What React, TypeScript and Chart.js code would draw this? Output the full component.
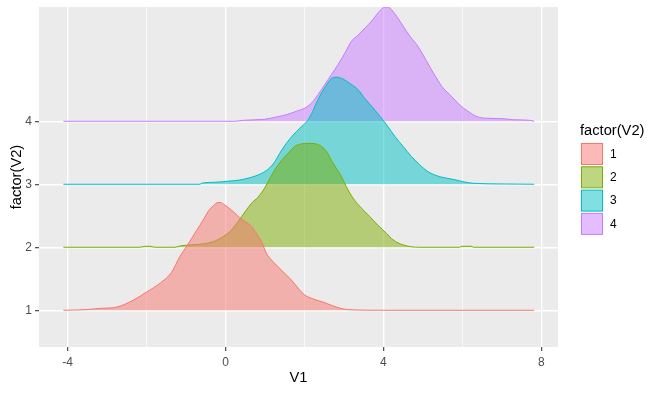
import { useEffect, useRef } from 'react';
import { Chart, registerables } from 'chart.js';

Chart.register(...registerables);

// ---- data ----
const GROUPS = ['1', '2', '3', '4'];
const BASELINES = [1, 2, 3, 4];
const X_TICKS = [-4, -2, 0, 2, 4, 6, 8];
const X_LABELED = [-4, 0, 4, 8];

const X1 = [-4.11, -3.54, -3.18, -2.76, -2.34, -2.0, -1.66, -1.37, -1.16, -0.99, -0.85, -0.73, -0.57, -0.44, -0.31, -0.19, -0.14, -0.02, 0.11, 0.24, 0.36, 0.49, 0.66, 0.78, 0.91, 1.04, 1.16, 1.33, 1.54, 1.67, 1.88, 2.01, 2.22, 2.47, 2.72, 2.98, 3.32, 4.0, 7.82];
const H1 = [0, 0.01, 0.03, 0.05, 0.16, 0.29, 0.43, 0.6, 0.85, 1.01, 1.15, 1.27, 1.43, 1.57, 1.66, 1.71, 1.71, 1.67, 1.61, 1.54, 1.47, 1.41, 1.33, 1.22, 1.09, 0.9, 0.8, 0.69, 0.56, 0.48, 0.32, 0.24, 0.18, 0.13, 0.07, 0.02, 0.005, 0, 0];

const X2 = [-4.11, -2.17, -2.03, -1.92, -1.79, -1.28, -1.16, -0.9, -0.57, -0.31, -0.06, 0.15, 0.32, 0.49, 0.66, 0.83, 0.99, 1.12, 1.25, 1.42, 1.58, 1.75, 1.92, 2.1, 2.3, 2.43, 2.56, 2.68, 2.81, 2.94, 3.06, 3.23, 3.4, 3.65, 3.86, 4.08, 4.24, 4.5, 4.92, 5.93, 5.98, 6.23, 6.29, 7.82];
const H2 = [0, 0, 0.016, 0.016, 0, 0, 0.02, 0.037, 0.052, 0.089, 0.168, 0.275, 0.41, 0.56, 0.7, 0.8, 0.94, 1.09, 1.23, 1.38, 1.49, 1.6, 1.64, 1.65, 1.64, 1.6, 1.52, 1.38, 1.25, 1.12, 0.96, 0.78, 0.65, 0.49, 0.35, 0.22, 0.12, 0.037, 0, 0, 0.016, 0.016, 0, 0];

const X3 = [-4.11, -0.65, -0.61, -0.27, 0.11, 0.36, 0.62, 0.87, 1.08, 1.25, 1.37, 1.54, 1.71, 1.88, 2.05, 2.18, 2.3, 2.43, 2.56, 2.68, 2.81, 2.98, 3.15, 3.36, 3.53, 3.74, 3.95, 4.12, 4.29, 4.5, 4.71, 4.92, 5.13, 5.43, 5.76, 6.02, 6.27, 7.07, 7.82];
const H3 = [0, 0, 0.016, 0.032, 0.052, 0.068, 0.105, 0.16, 0.24, 0.36, 0.49, 0.65, 0.78, 0.89, 0.99, 1.12, 1.29, 1.45, 1.58, 1.68, 1.7, 1.67, 1.6, 1.5, 1.36, 1.21, 1.05, 0.91, 0.76, 0.6, 0.44, 0.31, 0.2, 0.12, 0.079, 0.041, 0.016, 0.005, 0];

const X4 = [-4.11, 0.24, 0.45, 0.99, 1.29, 1.54, 1.8, 2.01, 2.18, 2.34, 2.51, 2.68, 2.85, 3.02, 3.19, 3.36, 3.53, 3.7, 3.86, 3.99, 4.08, 4.16, 4.33, 4.5, 4.67, 4.84, 5.0, 5.17, 5.34, 5.51, 5.72, 5.93, 6.14, 6.35, 6.52, 7.03, 7.28, 7.7, 7.82];
const H4 = [0, 0, 0.016, 0.032, 0.069, 0.105, 0.16, 0.21, 0.29, 0.42, 0.58, 0.74, 0.9, 1.08, 1.27, 1.37, 1.48, 1.59, 1.72, 1.8, 1.815, 1.8, 1.67, 1.51, 1.35, 1.22, 1.06, 0.87, 0.69, 0.53, 0.4, 0.26, 0.16, 0.079, 0.052, 0.041, 0.025, 0.016, 0];

const XS = [X1, X2, X3, X4];
const HS = [H1, H2, H3, H4];
const LINE_COLORS = ['#F8766D', '#7CAE00', '#00BFC4', '#C77CFF'];
const FILL_COLORS = ['rgba(248,118,109,0.5)', 'rgba(124,174,0,0.5)', 'rgba(0,191,196,0.5)', 'rgba(199,124,255,0.5)'];

const FONT = '"Liberation Sans", Arial, sans-serif';

const W = 659;
const H = 394;

const decorPlugin = {
  id: 'decor',
  beforeDraw(chart: any) {
    const { ctx, chartArea } = chart;
    ctx.save();
    ctx.fillStyle = '#EBEBEB';
    ctx.fillRect(chartArea.left, chartArea.top, chartArea.right - chartArea.left, chartArea.bottom - chartArea.top);
    ctx.restore();
  },
  afterDraw(chart: any) {
    const { ctx, chartArea } = chart;
    ctx.save();
    ctx.fillStyle = '#000000';
    ctx.font = `14.7px ${FONT}`;
    ctx.textAlign = 'center';
    ctx.textBaseline = 'middle';
    // x title
    ctx.fillText('V1', (chartArea.left + chartArea.right) / 2, 378);
    // y title
    ctx.save();
    ctx.translate(17, (chartArea.top + chartArea.bottom) / 2);
    ctx.rotate(-Math.PI / 2);
    ctx.fillText('factor(V2)', 0, 0);
    ctx.restore();
    // legend
    ctx.textAlign = 'left';
    ctx.fillText('factor(V2)', 580, 131);
    ctx.font = `12px ${FONT}`;
    for (let i = 0; i < GROUPS.length; i++) {
      const top = 143 + i * 23.3;
      ctx.fillStyle = FILL_COLORS[i];
      ctx.fillRect(581.5, top + 0.5, 21, 21);
      ctx.strokeStyle = LINE_COLORS[i];
      ctx.lineWidth = 1;
      ctx.strokeRect(581.5, top + 0.5, 21, 21);
      ctx.fillStyle = '#000000';
      ctx.fillText(GROUPS[i], 610, top + 11.5);
    }
    ctx.restore();
  },
};

export default function App() {
  const ref = useRef<HTMLCanvasElement>(null);
  useEffect(() => {
    const canvas = ref.current;
    if (!canvas) return;
    const datasets = GROUPS.map((g, i) => ({
      label: g,
      data: XS[i].map((x, j) => ({ x, y: BASELINES[i] + HS[i][j] })),
      borderColor: LINE_COLORS[i],
      backgroundColor: FILL_COLORS[i],
      borderWidth: 1,
      pointRadius: 0,
      cubicInterpolationMode: 'monotone' as const,
      fill: { value: BASELINES[i] },
    }));
    const chart = new Chart(canvas, {
      type: 'line',
      data: { datasets },
      plugins: [decorPlugin],
      options: {
        animation: false,
        responsive: false,
        devicePixelRatio: 1,
        layout: { padding: { left: 0, top: 7, right: 101, bottom: 0 } },
        plugins: { legend: { display: false }, tooltip: { enabled: false } },
        scales: {
          x: {
            type: 'linear',
            min: -4.727,
            max: 8.423,
            afterBuildTicks: (s: any) => {
              s.ticks = X_TICKS.map((v) => ({ value: v }));
            },
            afterFit: (s: any) => {
              s.height = 47;
              s.paddingLeft = 0;
              s.paddingRight = 0;
              s.paddingTop = 0;
              s.paddingBottom = 0;
            },
            border: { display: false },
            grid: {
              color: '#FFFFFF',
              lineWidth: (c: any) => (c.tick && X_LABELED.includes(c.tick.value) ? 1.4 : 0.7),
              drawTicks: true,
              tickLength: 4,
              tickColor: (c: any) => (c.tick && X_LABELED.includes(c.tick.value) ? '#333333' : 'rgba(0,0,0,0)'),
              tickWidth: 1.07,
            },
            ticks: {
              autoSkip: false,
              maxRotation: 0,
              padding: 4,
              color: '#4D4D4D',
              font: { family: FONT, size: 12 },
              callback: (v: any) => (X_LABELED.includes(Number(v)) ? String(v) : ''),
            },
          },
          y: {
            type: 'linear',
            min: 0.417,
            max: 5.814,
            afterBuildTicks: (s: any) => {
              s.ticks = BASELINES.map((v) => ({ value: v }));
            },
            afterFit: (s: any) => {
              s.width = 39;
              s.paddingLeft = 0;
              s.paddingRight = 0;
              s.paddingTop = 0;
              s.paddingBottom = 0;
            },
            border: { display: false },
            grid: {
              color: '#FFFFFF',
              lineWidth: 1.4,
              drawTicks: true,
              tickLength: 4,
              tickColor: '#333333',
              tickWidth: 1.07,
            },
            ticks: {
              autoSkip: false,
              padding: 3,
              color: '#4D4D4D',
              font: { family: FONT, size: 12 },
              callback: (v: any) => GROUPS[BASELINES.indexOf(Number(v))] ?? '',
            },
          },
        },
      },
    });
    return () => chart.destroy();
  }, []);
  return (
    <div style={{ position: 'absolute', left: 0, top: 0, width: W, height: H, background: '#FFFFFF' }}>
      <canvas ref={ref} width={W} height={H} style={{ display: 'block', width: W, height: H }} />
    </div>
  );
}
